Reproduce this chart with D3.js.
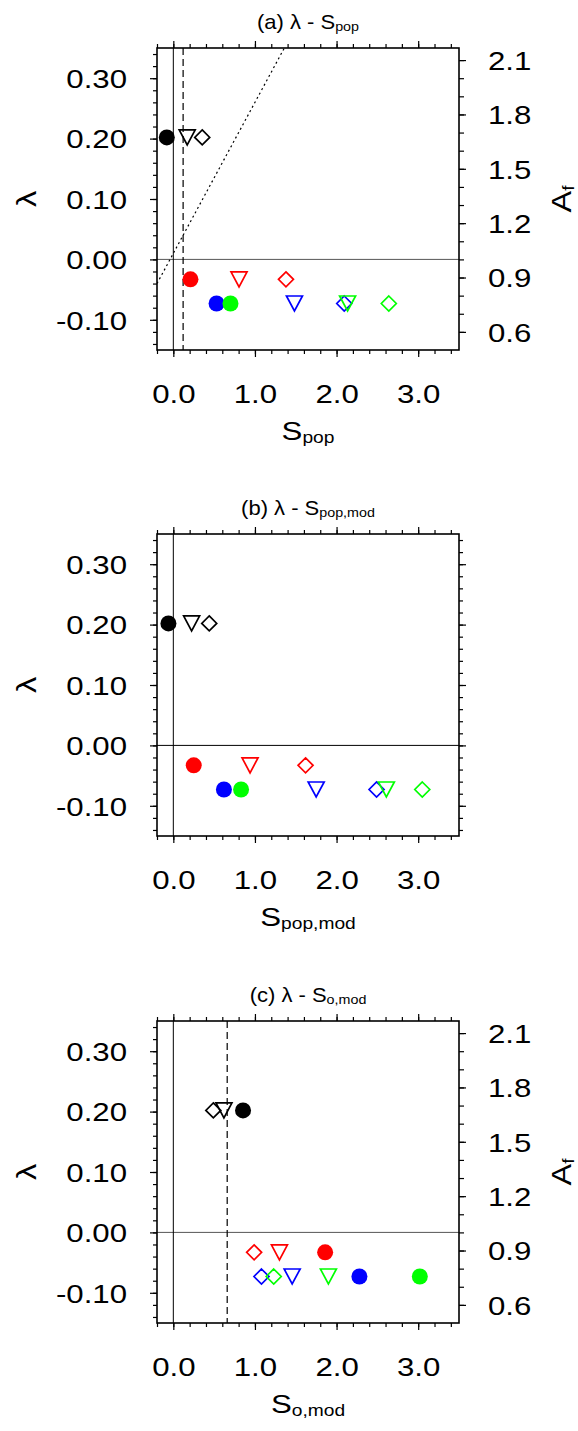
<!DOCTYPE html>
<html>
<head>
<meta charset="utf-8">
<script src="https://cdn.jsdelivr.net/npm/d3@7"></script>
<style>
  body { margin: 0; background: #fff; }
  text { font-family: "Liberation Sans", Arial, sans-serif; fill: #000; }
</style>
</head>
<body>
<svg id="chart" width="578" height="1431"></svg>
<script>
// one colour per experiment, same lambda in every panel
const seriesColors = ["#000000", "#ff0000", "#0000ff", "#00ff00"];
const lambdaValues = [0.202, -0.033, -0.073, -0.073];

// (a) S_pop
const sPopCircle   = [-0.08, 0.21, 0.53, 0.70];
const sPopTriangle = [0.17, 0.805, 1.484, 2.135];
const sPopDiamond  = [0.354, 1.38, 2.094, 2.64];

// (b) S_pop,mod
const sPopModCircle   = [-0.06, 0.25, 0.62, 0.83];
const sPopModTriangle = [0.224, 0.94, 1.75, 2.61];
const sPopModDiamond  = [0.44, 1.62, 2.49, 3.05];

// (c) S_o,mod
const sOModCircle   = [0.854, 1.86, 2.28, 3.02];
const sOModTriangle = [0.62, 1.30, 1.456, 1.90];
const sOModDiamond  = [0.49, 0.99, 1.08, 1.23];

// reference lines
const dashedA = 0.12;
const dashedC = 0.66;
const dottedA = [[-0.2, -0.04], [1.36, 0.35]];

// ticks
const xMajor = [0, 1, 2, 3];
const lambdaMajor = [-0.1, 0, 0.1, 0.2, 0.3];
const afMajor = [0.6, 0.9, 1.2, 1.5, 1.8, 2.1];

const svg = d3.select("#chart");
const left = 157, right = 459, plotH = 302;
const SX = 1.2; // the source font is drawn wide

const x = d3.scaleLinear().domain([-0.2, 3.5]).range([left, right]);
const fmt = f => v => d3.format(f)(v).replace("−", "-");

const panels = [
  { key: "a", top: 48, title: "(a) λ - S", sub: "pop",
    circle: sPopCircle, triangle: sPopTriangle, diamond: sPopDiamond,
    dashed: dashedA, dotted: dottedA, af: true, zeroColor: "#555" },
  { key: "b", top: 534, title: "(b) λ - S", sub: "pop,mod",
    circle: sPopModCircle, triangle: sPopModTriangle, diamond: sPopModDiamond,
    dashed: null, dotted: null, af: false, zeroColor: "#000" },
  { key: "c", top: 1021, title: "(c) λ - S", sub: "o,mod",
    circle: sOModCircle, triangle: sOModTriangle, diamond: sOModDiamond,
    dashed: dashedC, dotted: null, af: true, zeroColor: "#555" }
];

function wideText(g, tx, ty, rot, anchor, main, sub, size, subSize, subDy, sx) {
  const t = g.append("g")
    .attr("transform", `translate(${tx},${ty}) rotate(${rot}) scale(${sx || SX},1)`)
    .append("text")
    .attr("text-anchor", anchor)
    .attr("font-size", size);
  t.append("tspan").text(main);
  if (sub) t.append("tspan").attr("font-size", subSize).attr("dy", subDy).text(sub);
  return t;
}

function styleAxis(g) {
  g.select(".domain").remove();
  g.selectAll("line").attr("stroke", "#000").attr("stroke-width", 1.2);
}

function styleLabels(ax, xPos, yPos, dy) {
  ax.selectAll("text")
    .attr("x", xPos).attr("y", yPos).attr("dy", dy)
    .attr("font-size", 26)
    .attr("font-family", "Liberation Sans, Arial, sans-serif")
    .attr("fill", "#000")
    .attr("transform", `scale(${SX},1)`);
}

const triPath = "M-8,-7.5L8,-7.5L0,7.5Z";
const diaPath = "M0,-7.5L7.5,0L0,7.5L-7.5,0Z";

panels.forEach(p => {
  const g = svg.append("g");
  const top = p.top, bottom = p.top + plotH;
  const y = d3.scaleLinear().domain([-0.15, 0.35]).range([bottom, top]);
  const af = d3.scaleLinear().domain([0.5, 1 + 0.35 / 0.3]).range([bottom, top]);

  g.append("clipPath").attr("id", "clip-" + p.key)
    .append("rect").attr("x", left).attr("y", top).attr("width", right - left).attr("height", plotH);

  // bottom axis
  const xMinor = d3.range(-0.2, 3.45, 0.2).map(v => +v.toFixed(2));
  const bAx = g.append("g").attr("transform", `translate(0,${bottom})`)
    .call(d3.axisBottom(x).tickValues(xMajor).tickSize(7).tickSizeOuter(0).tickFormat(fmt(".1f")));
  styleLabels(bAx, 0, 53, 0);
  styleAxis(bAx);
  styleAxis(g.append("g").attr("transform", `translate(0,${bottom})`)
    .call(d3.axisBottom(x).tickValues(xMinor).tickSize(4).tickSizeOuter(0).tickFormat("")));
  // top axis
  styleAxis(g.append("g").attr("transform", `translate(0,${top})`)
    .call(d3.axisTop(x).tickValues(xMajor).tickSize(7).tickSizeOuter(0).tickFormat("")));
  styleAxis(g.append("g").attr("transform", `translate(0,${top})`)
    .call(d3.axisTop(x).tickValues(xMinor).tickSize(4).tickSizeOuter(0).tickFormat("")));

  // left axis
  const yMinor = d3.range(-0.14, 0.345, 0.02).map(v => +v.toFixed(2));
  const lAx = g.append("g").attr("transform", `translate(${left},0)`)
    .call(d3.axisLeft(y).tickValues(lambdaMajor).tickSize(7).tickSizeOuter(0).tickFormat(fmt(".2f")));
  styleLabels(lAx, -30 / SX, 0, "0.36em");
  styleAxis(lAx);
  styleAxis(g.append("g").attr("transform", `translate(${left},0)`)
    .call(d3.axisLeft(y).tickValues(yMinor).tickSize(4).tickSizeOuter(0).tickFormat("")));

  // right axis
  if (p.af) {
    const afMinor = d3.range(0.6, 2.15, 0.1).map(v => +v.toFixed(2));
    const rAx = g.append("g").attr("transform", `translate(${right},0)`)
      .call(d3.axisRight(af).tickValues(afMajor).tickSize(7).tickSizeOuter(0).tickFormat(fmt(".1f")));
    styleLabels(rAx, 29 / SX, 0, "0.36em");
    styleAxis(rAx);
    styleAxis(g.append("g").attr("transform", `translate(${right},0)`)
      .call(d3.axisRight(af).tickValues(afMinor).tickSize(5).tickSizeOuter(0).tickFormat("")));
    wideText(g, 571, (top + bottom) / 2, -90, "middle", "A", "f", 27, 16, 3);
  } else {
    styleAxis(g.append("g").attr("transform", `translate(${right},0)`)
      .call(d3.axisRight(y).tickValues(lambdaMajor).tickSize(7).tickSizeOuter(0).tickFormat("")));
    styleAxis(g.append("g").attr("transform", `translate(${right},0)`)
      .call(d3.axisRight(y).tickValues(yMinor).tickSize(4).tickSizeOuter(0).tickFormat("")));
  }

  // reference lines
  const plot = g.append("g").attr("clip-path", `url(#clip-${p.key})`);
  plot.append("line")
    .attr("x1", left).attr("x2", right).attr("y1", y(0)).attr("y2", y(0))
    .attr("stroke", p.zeroColor).attr("stroke-width", 1);
  plot.append("line")
    .attr("x1", x(0)).attr("x2", x(0)).attr("y1", top).attr("y2", bottom)
    .attr("stroke", "#000").attr("stroke-width", 1);
  if (p.dashed !== null) {
    plot.append("line")
      .attr("x1", x(p.dashed)).attr("x2", x(p.dashed)).attr("y1", top).attr("y2", bottom)
      .attr("stroke", "#000").attr("stroke-width", 1.2).attr("stroke-dasharray", "7,4");
  }
  if (p.dotted) {
    plot.append("path")
      .attr("d", d3.line().x(d => x(d[0])).y(d => y(d[1]))(p.dotted))
      .attr("fill", "none").attr("stroke", "#000").attr("stroke-width", 1.2)
      .attr("stroke-dasharray", "2,3");
  }

  // markers, experiment by experiment
  seriesColors.forEach((col, i) => {
    const ly = y(lambdaValues[i]);
    plot.append("circle")
      .attr("cx", x(p.circle[i])).attr("cy", ly).attr("r", 8).attr("fill", col);
    plot.append("path").attr("d", triPath)
      .attr("transform", `translate(${x(p.triangle[i])},${ly})`)
      .attr("fill", "none").attr("stroke", col).attr("stroke-width", 1.7);
    plot.append("path").attr("d", diaPath)
      .attr("transform", `translate(${x(p.diamond[i])},${ly})`)
      .attr("fill", "none").attr("stroke", col).attr("stroke-width", 1.7);
  });

  // frame
  g.append("rect").attr("x", left).attr("y", top).attr("width", right - left).attr("height", plotH)
    .attr("fill", "none").attr("stroke", "#000").attr("stroke-width", 1.6);

  // texts
  wideText(g, (left + right) / 2, top - 19, 0, "middle", p.title, p.sub, 20, 13, 2, 1.1);
  wideText(g, (left + right) / 2, bottom + 90, 0, "middle", "S", p.sub, 26, 16, 3);
  wideText(g, 36, (top + bottom) / 2, -90, "middle", "λ", null, 27);
});
</script>
</body>
</html>
